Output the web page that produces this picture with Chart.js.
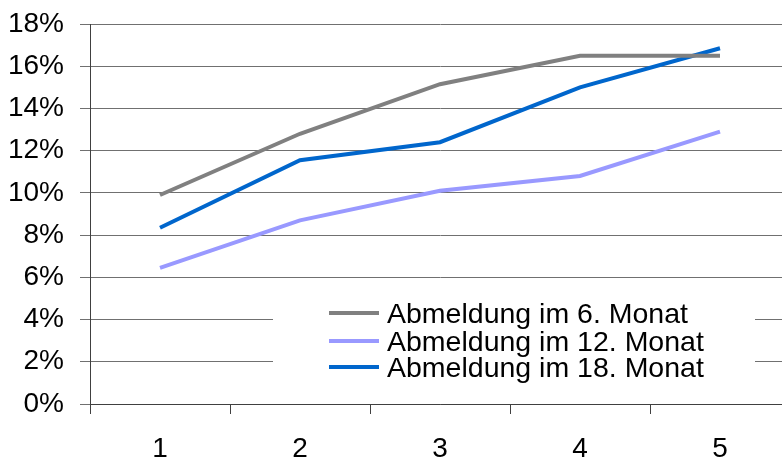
<!DOCTYPE html>
<html>
<head>
<meta charset="utf-8">
<script src="https://cdn.jsdelivr.net/npm/chart.js@4/dist/chart.umd.min.js"></script>
<style>
  html, body { margin: 0; padding: 0; background: #fff; overflow: hidden; }
  #wrap { width: 800px; height: 459px; }
</style>
</head>
<body>
<div id="wrap"><canvas id="chart"></canvas></div>
<script>
// data
const categories = ["1", "2", "3", "4", "5"];
const abm6 = [9.9, 12.8, 15.15, 16.5, 16.5];
const abm12 = [6.45, 8.7, 10.1, 10.8, 12.9];
const abm18 = [8.35, 11.55, 12.4, 15.0, 16.85];
const yTicks = [0, 2, 4, 6, 8, 10, 12, 14, 16, 18];

const seriesNames = ["Abmeldung im 6. Monat", "Abmeldung im 12. Monat", "Abmeldung im 18. Monat"];
const seriesColors = ["#808080", "#9999ff", "#0066cc"];

const FONT = "'Liberation Sans', Arial, sans-serif";

// legend sits inside the plot on a white box
const boxLegend = {
    id: "boxLegend",
    afterDatasetsDraw(chart) {
        const ctx = chart.ctx;
        ctx.save();
        ctx.fillStyle = "#fff";
        ctx.fillRect(273, 287, 482, 104);

        const rows = [313, 341, 367];
        ctx.font = "28.5px " + FONT;
        ctx.textAlign = "left";
        ctx.textBaseline = "alphabetic";
        seriesNames.forEach((name, i) => {
            ctx.strokeStyle = seriesColors[i];
            ctx.lineWidth = 4;
            ctx.beginPath();
            ctx.moveTo(329, rows[i]);
            ctx.lineTo(379, rows[i]);
            ctx.stroke();
            ctx.fillStyle = "#000";
            ctx.fillText(name, 387, rows[i] + 10);
        });
        ctx.restore();
    }
};

const makeSet = (label, data, color) => ({
    label: label,
    data: data,
    borderColor: color,
    backgroundColor: color,
    borderWidth: 4,
    pointRadius: 0,
    tension: 0,
    fill: false
});

new Chart(document.getElementById("chart"), {
    type: "line",
    data: {
        labels: categories,
        datasets: [
            makeSet(seriesNames[0], abm6, seriesColors[0]),
            makeSet(seriesNames[1], abm12, seriesColors[1]),
            makeSet(seriesNames[2], abm18, seriesColors[2])
        ]
    },
    options: {
        responsive: true,
        maintainAspectRatio: false,
        animation: false,
        layout: { padding: { top: 24, right: 10, left: 0, bottom: 0 } },
        plugins: {
            legend: { display: false },
            tooltip: { enabled: false }
        },
        scales: {
            x: {
                offset: true,
                grid: {
                    offset: true,
                    drawOnChartArea: false,
                    drawTicks: true,
                    tickLength: 10,
                    color: "#404040"
                },
                border: { color: "#404040", width: 1 },
                ticks: {
                    color: "#000",
                    padding: 18,
                    font: { family: FONT, size: 28 }
                },
                afterFit(scale) {
                    scale.height = 55;
                    scale.paddingLeft = 0;
                    scale.paddingRight = 0;
                }
            },
            y: {
                min: 0,
                max: 18,
                afterBuildTicks(scale) {
                    scale.ticks = yTicks.map(v => ({ value: v }));
                },
                grid: {
                    color: "#707070",
                    tickLength: 10,
                    drawTicks: true
                },
                border: { color: "#404040", width: 1 },
                ticks: {
                    color: "#000",
                    padding: 16,
                    font: { family: FONT, size: 28 },
                    callback: v => v + "%"
                },
                afterFit(scale) {
                    scale.width = 90;
                    scale.paddingTop = 0;
                    scale.paddingBottom = 0;
                }
            }
        }
    },
    plugins: [boxLegend]
});
</script>
</body>
</html>
